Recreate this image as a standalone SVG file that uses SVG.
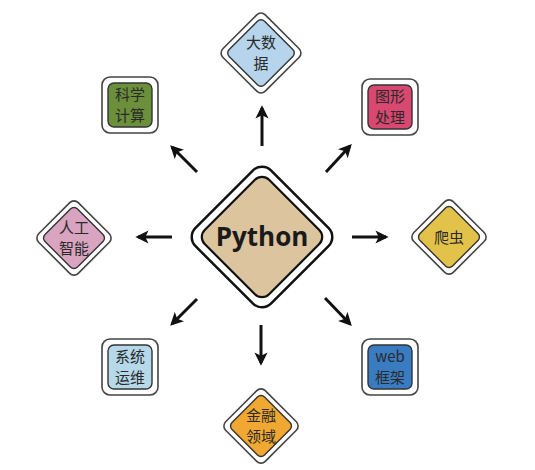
<svg xmlns="http://www.w3.org/2000/svg" width="535" height="470" viewBox="0 0 535 470">
<style>
.outer{fill:#fff;stroke:#444;stroke-width:1.6}
.inner{stroke:#333;stroke-width:1.4}
.t{font-family:"Noto Sans CJK SC","Noto Sans",sans-serif;font-size:15px;fill:#2a2a2a;text-anchor:middle}
.arr{stroke:#111;stroke-width:3;fill:none;marker-end:url(#ah)}
</style>
<defs>
<marker id="ah" viewBox="0 0 10 10" refX="8" refY="5" markerWidth="4.4" markerHeight="4.4" orient="auto" markerUnits="strokeWidth">
<path d="M0,0 L10,5 L0,10 L2.5,5 z" fill="#111"/>
</marker>
</defs>
<rect width="535" height="470" fill="#fff"/>
<g id="connectors">
<line class="arr" x1="262" y1="146" x2="262" y2="108"/>
<line class="arr" x1="197" y1="172" x2="172" y2="147"/>
<line class="arr" x1="326" y1="172" x2="350" y2="146"/>
<line class="arr" x1="172" y1="237" x2="138" y2="237"/>
<line class="arr" x1="352" y1="237" x2="386" y2="237"/>
<line class="arr" x1="197" y1="299" x2="172" y2="324"/>
<line class="arr" x1="261" y1="325" x2="261" y2="363"/>
<line class="arr" x1="325" y1="298" x2="350" y2="324"/>
</g>
<g id="python">
<rect x="-53.5" y="-53.5" width="107" height="107" rx="13" transform="translate(262,237) rotate(45)" fill="#fff" stroke="#111" stroke-width="2.5"/>
<rect x="-45.5" y="-45.5" width="91" height="91" rx="10" transform="translate(262,237) rotate(45)" fill="#dcc49e" stroke="#111" stroke-width="2.2"/>
<text x="262" y="246" font-family="'Open Sans','DejaVu Sans',sans-serif" font-weight="bold" font-size="26" fill="#1a1a1a" text-anchor="middle">Python</text>
</g>
<g id="bigdata">
<rect class="outer" x="-30" y="-30" width="60" height="60" rx="6" transform="translate(261,53) rotate(45)"/>
<rect class="inner" x="-25" y="-25" width="50" height="50" rx="5" transform="translate(261,53) rotate(45)" fill="#b6d4ec"/>
<text class="t" x="261" y="48">大数</text>
<text class="t" x="261" y="69">据</text>
</g>
<g id="scientific">
<rect class="outer" x="102" y="77" width="56" height="56" rx="8"/>
<rect class="inner" x="108" y="83" width="44" height="44" rx="6" fill="#6b8f3a"/>
<text class="t" x="130" y="100">科学</text>
<text class="t" x="130" y="121">计算</text>
</g>
<g id="graphics">
<rect class="outer" x="362" y="79" width="56" height="56" rx="8"/>
<rect class="inner" x="368" y="85" width="44" height="44" rx="6" fill="#d84870"/>
<text class="t" x="390" y="102">图形</text>
<text class="t" x="390" y="123">处理</text>
</g>
<g id="ai">
<rect class="outer" x="-28" y="-28" width="56" height="56" rx="6" transform="translate(74,238) rotate(45)"/>
<rect class="inner" x="-23" y="-23" width="46" height="46" rx="5" transform="translate(74,238) rotate(45)" fill="#d8a4c0"/>
<text class="t" x="74" y="233">人工</text>
<text class="t" x="74" y="254">智能</text>
</g>
<g id="crawler">
<rect class="outer" x="-28" y="-28" width="56" height="56" rx="6" transform="translate(449,237) rotate(45)"/>
<rect class="inner" x="-23" y="-23" width="46" height="46" rx="5" transform="translate(449,237) rotate(45)" fill="#e2c24a"/>
<text class="t" x="449" y="243">爬虫</text>
</g>
<g id="ops">
<rect class="outer" x="102" y="339" width="56" height="56" rx="8"/>
<rect class="inner" x="108" y="345" width="44" height="44" rx="6" fill="#b6d9ea"/>
<text class="t" x="130" y="362">系统</text>
<text class="t" x="130" y="383">运维</text>
</g>
<g id="web">
<rect class="outer" x="362" y="339" width="56" height="56" rx="8"/>
<rect class="inner" x="368" y="345" width="44" height="44" rx="6" fill="#3a7cc2"/>
<text class="t" x="390" y="362">web</text>
<text class="t" x="390" y="383">框架</text>
</g>
<g id="finance">
<rect class="outer" x="-28" y="-28" width="56" height="56" rx="6" transform="translate(261,426) rotate(45)"/>
<rect class="inner" x="-23" y="-23" width="46" height="46" rx="5" transform="translate(261,426) rotate(45)" fill="#f0a832"/>
<text class="t" x="261" y="421">金融</text>
<text class="t" x="261" y="442">领域</text>
</g>
</svg>
